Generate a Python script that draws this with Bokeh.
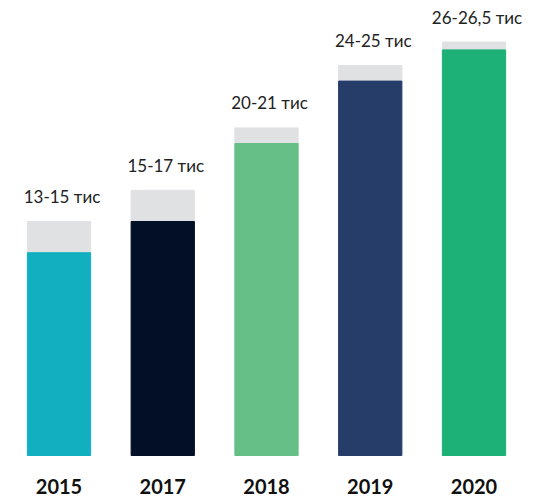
from bokeh.plotting import figure
from bokeh.models import ColumnDataSource, Range1d
from bokeh.core.properties import value
from bokeh.embed import file_html
from bokeh.resources import INLINE

years = ["2015", "2017", "2018", "2019", "2020"]
low_values = [13, 15, 20, 24, 26]
high_values = [15, 17, 21, 25, 26.5]
range_labels = ["13-15 тис", "15-17 тис", "20-21 тис", "24-25 тис", "26-26,5 тис"]
colors = ["#12AFC1", "#030F26", "#66BF86", "#263D6A", "#1DB077"]
gray = "#E0E1E3"

xs = list(range(len(years)))
src = ColumnDataSource(dict(x=xs, low=low_values, high=high_values,
                            lab=range_labels, year=years, color=colors,
                            zero=[0] * len(years),
                            ylab=[-1.955] * len(years)))

p = figure(width=544, height=498, output_backend="svg", toolbar_location=None,
           x_range=Range1d(-0.5639, 4.6795), y_range=Range1d(-2.756, 29.167),
           min_border=0, min_border_left=0, min_border_right=0,
           min_border_top=0, min_border_bottom=0)
p.axis.visible = False
p.grid.visible = False
p.outline_line_color = None
p.background_fill_color = "white"
p.border_fill_color = "white"

bw = 0.61
p.vbar(x="x", bottom="low", top="high", width=bw, color=gray, source=src)
p.vbar(x="x", bottom="zero", top="low", width=bw, color="color", source=src)

p.text(x="x", y="high", text="lab", source=src, text_align="center",
       text_baseline="middle", y_offset=-25, x_offset=3,
       text_font=value("Lato"), text_font_size="17px", text_color="#222222")

p.text(x="x", y="ylab", text="year", source=src, text_align="center",
       text_baseline="middle", text_font=value("Lato"),
       text_font_size="20px", text_font_style="bold", text_color="#111111")

open("out.html", "w").write(file_html(p, INLINE))
